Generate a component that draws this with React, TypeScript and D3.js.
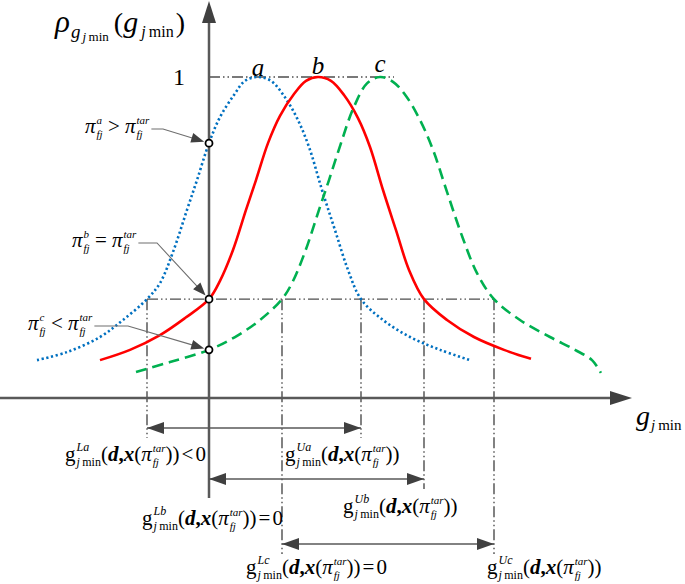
import { useEffect, useRef } from 'react';
import * as d3 from 'd3';

type Pt = [number, number];
type Span = { t: string; it?: boolean; b?: boolean };
type Tok = { s: Span[]; fs: number; dy?: number; dx?: number; stack?: boolean };

// membership curves a, b, c as [g_jmin, rho]
const curveA: Pt[] = [
  [-3.44, 0.118], [-2.84, 0.143], [-2.18, 0.19], [-1.72, 0.243], [-1.24, 0.308],
  [-0.98, 0.358], [-0.72, 0.455], [-0.44, 0.586], [-0.24, 0.679], [0, 0.794],
  [0.22, 0.875], [0.5, 0.944], [0.72, 0.988], [0.98, 1.0], [1.24, 0.988],
  [1.5, 0.941], [1.76, 0.872], [2.0, 0.782], [2.26, 0.648], [2.52, 0.523],
  [2.78, 0.399], [3.04, 0.308], [3.48, 0.243], [4.02, 0.19], [4.62, 0.15], [5.22, 0.118],
];
const curveB: Pt[] = [
  [-2.18, 0.118], [-1.58, 0.15], [-0.98, 0.196], [-0.48, 0.249], [0, 0.308],
  [0.22, 0.365], [0.48, 0.461], [0.74, 0.586], [0.94, 0.679], [1.18, 0.794],
  [1.42, 0.879], [1.7, 0.947], [1.94, 0.988], [2.18, 1.0], [2.44, 0.988],
  [2.7, 0.944], [2.98, 0.872], [3.22, 0.782], [3.48, 0.648], [3.74, 0.523],
  [4.0, 0.399], [4.3, 0.308], [4.76, 0.243], [5.3, 0.19], [5.9, 0.15], [6.44, 0.122],
];
const curveC: Pt[] = [
  [-1.46, 0.081], [-0.78, 0.112], [0, 0.15], [0.52, 0.19], [1.02, 0.243],
  [1.46, 0.308], [1.66, 0.358], [1.92, 0.455], [2.2, 0.586], [2.4, 0.679],
  [2.64, 0.794], [2.88, 0.9], [3.16, 0.98], [3.42, 1.0],
  [3.68, 0.985], [3.94, 0.941], [4.22, 0.866], [4.48, 0.773], [4.76, 0.642],
  [5.06, 0.505], [5.36, 0.389], [5.7, 0.308], [6.22, 0.243], [6.82, 0.19],
  [7.32, 0.15], [7.66, 0.118], [7.84, 0.078],
];

// cut level and where each curve meets it
const cutLevel = 0.308;
const boundsA: Pt = [-1.24, 3.04];
const boundsB: Pt = [0, 4.3];
const boundsC: Pt = [1.46, 5.7];

const curveNames = ['a', 'b', 'c'];
const peakG = [0.98, 2.18, 3.42];
const yTickLabels = ['1'];

const FONT = '"Liberation Serif", "Times New Roman", serif';

const sp = (t: string, it = false, b = false): Span => ({ t, it, b });

const piLabel = (sup: string, op: string): Tok[] => [
  { s: [sp('π', true)], fs: 21 },
  { s: [sp(sup, true)], fs: 11, dy: -9, dx: 1 },
  { s: [sp('fj', true)], fs: 11, dy: 5, stack: true },
  { s: [sp(` ${op} `)], fs: 21 },
  { s: [sp('π', true)], fs: 21 },
  { s: [sp('tar', true)], fs: 11, dy: -9, dx: 1 },
  { s: [sp('fj', true)], fs: 11, dy: 5, stack: true },
];

const boundLabel = (sup: string, rel: string): Tok[] => {
  const toks: Tok[] = [
    { s: [sp('g')], fs: 21 },
    { s: [sp(sup, true)], fs: 12, dy: -10, dx: 1 },
    { s: [sp('j', true), sp('\u2009min')], fs: 12, dy: 5, stack: true },
    { s: [sp('(')], fs: 21 },
    { s: [sp('d', true, true), sp(',', false, true), sp('x', true, true)], fs: 21 },
    { s: [sp('(')], fs: 21 },
    { s: [sp('π', true)], fs: 21 },
    { s: [sp('tar', true)], fs: 11, dy: -9, dx: 1 },
    { s: [sp('fj', true)], fs: 11, dy: 5, stack: true },
    { s: [sp('))')], fs: 21 },
  ];
  if (rel) {
    toks.push({ s: [sp(rel)], fs: 21, dx: 2 });
    toks.push({ s: [sp('0')], fs: 21, dx: 2 });
  }
  return toks;
};

const yLabel: Tok[] = [
  { s: [sp('ρ', true)], fs: 31 },
  { s: [sp('g', true)], fs: 19, dy: 6, dx: 1 },
  { s: [sp('j', true), sp('\u2009min')], fs: 13, dy: 9, dx: 2 },
  { s: [sp('(')], fs: 28, dx: 5 },
  { s: [sp('g', true)], fs: 30 },
  { s: [sp('j', true), sp('\u2009min')], fs: 16, dy: 5, dx: 3 },
  { s: [sp(')')], fs: 28, dx: 2 },
];

const xLabel: Tok[] = [
  { s: [sp('g', true)], fs: 28 },
  { s: [sp('j', true), sp('\u2009min')], fs: 15, dy: 5, dx: 1 },
];

const tri = (tx: number, ty: number, ang: number, len: number, hw: number) => {
  const c = Math.cos(ang);
  const s = Math.sin(ang);
  const bx = tx - len * c;
  const by = ty - len * s;
  return `${tx},${ty} ${bx - hw * s},${by + hw * c} ${bx + hw * s},${by - hw * c}`;
};

export default function App() {
  const ref = useRef<SVGSVGElement>(null);

  useEffect(() => {
    const svg = d3.select(ref.current!);
    svg.selectAll('*').remove();

    const x = d3.scaleLinear().domain([-4, 8]).range([9, 609]);
    const y = d3.scaleLinear().domain([0, 1]).range([398, 77]);
    const axisCol = '#595959';
    const headCol = '#404040';
    const guideCol = '#4d4d4d';
    const dashDot = '11 3 1.5 3 1.5 3';

    const drawMath = (px: number, py: number, toks: Tok[]) => {
      const g = svg.append('g').attr('transform', `translate(${px},${py})`);
      let cursor = 0;
      let prev = 0;
      toks.forEach((tk) => {
        const x0 = tk.stack ? prev : cursor + (tk.dx ?? 0);
        const t = g.append('text')
          .attr('x', x0)
          .attr('y', tk.dy ?? 0)
          .attr('font-size', tk.fs)
          .attr('font-family', FONT)
          .attr('fill', '#000')
          .style('white-space', 'pre');
        tk.s.forEach((s) => t.append('tspan')
          .attr('font-style', s.it ? 'italic' : 'normal')
          .attr('font-weight', s.b ? 'bold' : 'normal')
          .text(s.t));
        const w = (t.node() as SVGTextElement).getComputedTextLength();
        cursor = tk.stack ? Math.max(cursor, x0 + w) : x0 + w;
        prev = x0;
      });
      return px + cursor;
    };

    // guides at level 1 and at the cut level
    svg.append('line')
      .attr('x1', x(0)).attr('x2', x(3.7))
      .attr('y1', y(1)).attr('y2', y(1))
      .attr('stroke', guideCol).attr('stroke-width', 1.4)
      .attr('stroke-dasharray', dashDot);
    svg.append('line')
      .attr('x1', x(boundsA[0])).attr('x2', x(boundsC[1]))
      .attr('y1', y(cutLevel)).attr('y2', y(cutLevel))
      .attr('stroke', guideCol).attr('stroke-width', 1.4)
      .attr('stroke-dasharray', dashDot);

    const rows = [
      { b: boundsA, y: 428 },
      { b: boundsB, y: 479 },
      { b: boundsC, y: 544 },
    ];
    rows.forEach((r) => {
      r.b.filter((v) => v !== 0).forEach((v) => {
        svg.append('line')
          .attr('x1', x(v)).attr('x2', x(v))
          .attr('y1', y(cutLevel)).attr('y2', r.y + 10)
          .attr('stroke', guideCol).attr('stroke-width', 1.4)
          .attr('stroke-dasharray', dashDot);
      });
    });

    // curves
    const line = d3.line<Pt>()
      .x((d) => x(d[0]))
      .y((d) => y(d[1]))
      .curve(d3.curveCatmullRom.alpha(0.5));
    const series = [
      { d: curveA, col: '#0070c0', dash: '2.2 2.6' },
      { d: curveB, col: '#ff0000', dash: null },
      { d: curveC, col: '#00b050', dash: '11 6' },
    ];
    series.forEach((s) => {
      svg.append('path')
        .attr('d', line(s.d)!)
        .attr('fill', 'none')
        .attr('stroke', s.col)
        .attr('stroke-width', 2.6)
        .attr('stroke-dasharray', s.dash);
    });

    // axes
    svg.append('line')
      .attr('x1', 0).attr('x2', 612)
      .attr('y1', y(0)).attr('y2', y(0))
      .attr('stroke', axisCol).attr('stroke-width', 2.5);
    svg.append('polygon')
      .attr('points', tri(632, y(0), 0, 22, 7))
      .attr('fill', headCol);
    svg.append('line')
      .attr('x1', x(0)).attr('x2', x(0))
      .attr('y1', 498).attr('y2', 20)
      .attr('stroke', axisCol).attr('stroke-width', 2.5);
    svg.append('polygon')
      .attr('points', tri(x(0), 1, -Math.PI / 2, 22, 7))
      .attr('fill', headCol);

    // double arrows for the bound intervals
    rows.forEach((r) => {
      svg.append('line')
        .attr('x1', x(r.b[0])).attr('x2', x(r.b[1]))
        .attr('y1', r.y).attr('y2', r.y)
        .attr('stroke', axisCol).attr('stroke-width', 1.3);
      svg.append('polygon')
        .attr('points', tri(x(r.b[0]), r.y, Math.PI, 17, 6))
        .attr('fill', headCol);
      svg.append('polygon')
        .attr('points', tri(x(r.b[1]), r.y, 0, 17, 6))
        .attr('fill', headCol);
    });

    // intercept markers and their labels
    const intercepts = [curveA, curveB, curveC].map((c) => c.find((p) => p[0] === 0)![1]);
    const notes = [
      { toks: piLabel('a', '>'), lx: 85, ly: 133, bend: 163 },
      { toks: piLabel('b', '='), lx: 72, ly: 247, bend: 157 },
      { toks: piLabel('c', '<'), lx: 28, ly: 330, bend: 128 },
    ];
    notes.forEach((n, i) => {
      const end = drawMath(n.lx, n.ly, n.toks);
      const cx = x(0);
      const cy = y(intercepts[i]);
      const sy = n.ly - 4;
      const ang = Math.atan2(cy - sy, cx - n.bend);
      const tx = cx - 5 * Math.cos(ang);
      const ty = cy - 5 * Math.sin(ang);
      svg.append('polyline')
        .attr('points', `${end + 2},${sy} ${n.bend},${sy} ${tx - 10 * Math.cos(ang)},${ty - 10 * Math.sin(ang)}`)
        .attr('fill', 'none')
        .attr('stroke', '#6e6e6e')
        .attr('stroke-width', 1.1);
      svg.append('polygon')
        .attr('points', tri(tx, ty, ang, 13, 5))
        .attr('fill', headCol);
    });
    intercepts.forEach((v) => {
      svg.append('circle')
        .attr('cx', x(0)).attr('cy', y(v)).attr('r', 3.5)
        .attr('fill', '#fff').attr('stroke', '#000').attr('stroke-width', 1.8);
    });

    // text
    drawMath(55, 32, yLabel);
    drawMath(636, 425, xLabel);
    svg.append('text')
      .attr('x', 173).attr('y', y(1) + 8)
      .attr('font-family', FONT).attr('font-size', 24)
      .text(yTickLabels[0]);
    curveNames.forEach((nm, i) => {
      svg.append('text')
        .attr('x', x(peakG[i])).attr('y', y(1) - 1 - i * 2)
        .attr('text-anchor', 'middle')
        .attr('font-family', FONT).attr('font-size', 25)
        .attr('font-style', 'italic')
        .text(nm);
    });

    drawMath(65, 461, boundLabel('La', '<'));
    drawMath(285, 461, boundLabel('Ua', ''));
    drawMath(142, 525, boundLabel('Lb', '='));
    drawMath(343, 513, boundLabel('Ub', ''));
    drawMath(246, 574, boundLabel('Lc', '='));
    drawMath(487, 574, boundLabel('Uc', ''));
  }, []);

  return (
    <svg
      ref={ref}
      width={685}
      height={584}
      style={{ position: 'absolute', left: 0, top: 0, background: '#fff' }}
    />
  );
}
